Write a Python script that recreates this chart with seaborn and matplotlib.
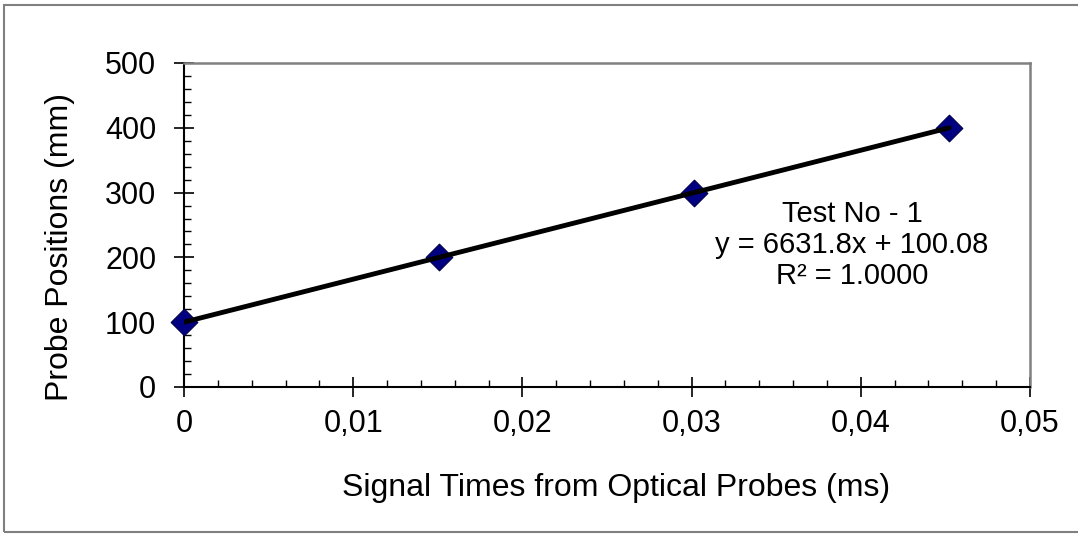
import matplotlib
matplotlib.use("Agg")
import matplotlib.pyplot as plt
from matplotlib.ticker import MultipleLocator, FuncFormatter
from matplotlib.patches import Rectangle
import numpy as np
import pandas as pd
import seaborn as sns

# Measured probe signal times (ms) and probe positions (mm)
signal_times = [0.0, 0.01507, 0.03015, 0.04522]
probe_positions = [100, 200, 300, 400]

# Linear trendline parameters
slope = 6631.8
intercept = 100.08
r_squared = 1.0000

x_ticks = [0, 0.01, 0.02, 0.03, 0.04, 0.05]
y_ticks = [0, 100, 200, 300, 400, 500]

sns.set_style("white")
plt.rcParams["font.family"] = ["Liberation Sans", "DejaVu Sans"]
plt.rcParams["text.color"] = "black"
plt.rcParams["axes.labelcolor"] = "black"

fig = plt.figure(figsize=(10.78, 5.34), dpi=100)
ax = fig.add_axes([184 / 1078, 1 - 387 / 534, (1030 - 184) / 1078, (387 - 63) / 534])

points = pd.DataFrame({"time": signal_times, "position": probe_positions})
trend_x = [min(signal_times), max(signal_times)]
trend = pd.DataFrame({"time": trend_x,
                      "position": [slope * t + intercept for t in trend_x]})

sns.scatterplot(data=points, x="time", y="position", marker="D", s=185,
                color="#000080", edgecolor="#00004a", linewidth=0.8,
                ax=ax, zorder=3, clip_on=False)
sns.lineplot(data=trend, x="time", y="position", color="black", linewidth=3.5,
             ax=ax, zorder=4)

ax.set_xlim(0, 0.05)
ax.set_ylim(0, 500)
ax.set_xticks(x_ticks)
ax.set_yticks(y_ticks)
ax.xaxis.set_minor_locator(MultipleLocator(0.002))
ax.yaxis.set_minor_locator(MultipleLocator(20))
ax.xaxis.set_major_formatter(FuncFormatter(
    lambda v, p: "0" if abs(v) < 1e-12 else f"{v:.2f}".replace(".", ",")))
ax.yaxis.set_major_formatter(FuncFormatter(lambda v, p: f"{v:.0f}"))

ax.tick_params(axis="both", which="major", direction="inout", length=14,
               width=1.2, color="black", labelsize=22, labelcolor="black")
ax.tick_params(axis="y", which="major", pad=13)
ax.tick_params(axis="x", which="major", pad=9)
ax.tick_params(axis="both", which="minor", direction="in", length=5,
               width=1.0, color="black")
ax.tick_params(bottom=True, left=True, top=False, right=False, which="both")

for side in ("left", "bottom"):
    ax.spines[side].set_color("black")
    ax.spines[side].set_linewidth(1.5)
for side in ("top", "right"):
    ax.spines[side].set_color("#808080")
    ax.spines[side].set_linewidth(1.8)
    ax.spines[side].set_visible(True)

ax.set_xlabel("Signal Times from Optical Probes (ms)", fontsize=23)
ax.set_ylabel("Probe Positions (mm)", fontsize=23)
ax.xaxis.label.set_va("center")
ax.yaxis.label.set_va("center")
ax.xaxis.set_label_coords((616 - 184) / 846, (387 - 488) / 324)
ax.yaxis.set_label_coords((60 - 184) / 846, (387 - 247) / 324)

ax.text((852 - 184) / 846, (387 - 245) / 324,
        f"Test No - 1\ny = {slope}x + {intercept}\nR² = {r_squared:.4f}",
        transform=ax.transAxes, ha="center", va="center",
        multialignment="center", fontsize=21, linespacing=1.12)

fig.patches.append(Rectangle((4 / 1078, 2 / 534), 1.2, 1 - 7 / 534,
                             transform=fig.transFigure, fill=False,
                             edgecolor="#808080", linewidth=1.5))

fig.savefig("out.png", dpi=100)
